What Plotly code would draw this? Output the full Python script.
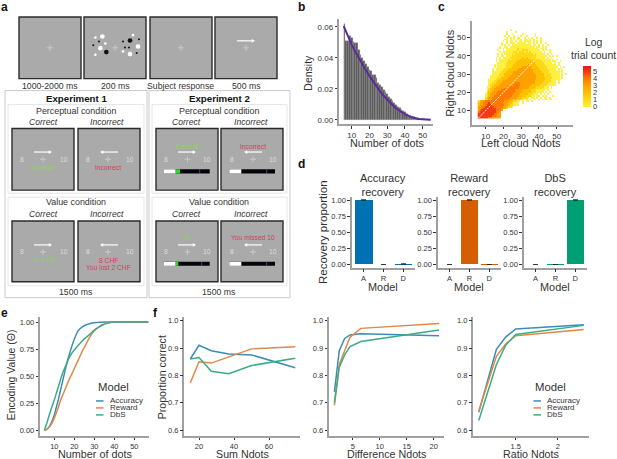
import plotly.graph_objects as go

W, H = 617, 459
FONT = "Liberation Sans"
GREY = "#a0a0a0"
INK = "#333333"

# panel b
dots = list(range(6, 55))
density = [.062, .051, .051, .054, .053, .050, .0495, .0495, .045, .042, .040, .038, .036, .034, .032, .0315,
           .029, .029, .027, .024, .0225, .021, .019, .018, .0165, .015, .0135, .012, .011, .0095, .0085, .0075,
           .0065, .0055, .0048, .004, .0032, .0027, .002, .0016, .0012, .0009, .0006, .0004, .0003, .0002, .0001,
           .00005, .00002]
fit_x = [5.5, 8, 10, 12, 14, 16, 18, 20, 22, 24, 26, 28, 30, 32, 34, 36, 38, 40, 42, 44, 46, 48, 50, 52, 54.5]
fit_y = [.0605, .0535, .0485, .044, .0398, .0358, .032, .0283, .0248, .0215, .0184, .0155, .0129, .0105, .0084,
         .0065, .0049, .0036, .0025, .0016, .001, .0005, .0002, .0001, 0]

# panel c, log trial count read per dot count ('.' = no trials), top row is y=54, first column x=6
cloud_rows = [
    "..................0",
    "................0....0",
    "................0..0.....0......0",
    "...............0.0..0...0..0....0",
    "................0.0.0.00..0.0.0..0.0",
    "...............00.0.0.0.0.00.0.0...0",
    "..............0.0.00.0.00.0000.0.0.0",
    ".............0..0.000.00000.00.0.0.0..0",
    ".............0.0.0.00000000000.00.0.0..0",
    "............0..00.00000000000000.00.0.0",
    "............0.0.000000100100000000.00.0",
    "...........0..0.0000001001110000000.0.0.0",
    "............0.0000001101110101000000.0..0",
    "...........0.0.00001011111111110100000.0.0",
    "...........0.00.00011111111111111000000.0.0.0",
    "..........0.0.000011111112121111100000.0.0",
    "..........0.00000101111122222211111000000.0.0",
    "..........0.00000111112222222221111100000.00..0",
    "...........0000011111222222222221111100000.0.0",
    ".........0.000001111222222223222211111000000.0",
    ".........0.0000011122222233333222211111000000.0.0",
    "........0.0000011122222333333322222111100000.00",
    "........0.0000111222223333333332222111110000.0.0",
    "........00000111222233333333333222221111000000.0",
    "........00001112222333333333333322222111100000.0.0",
    ".......000001112223333333333333332222111100000.0",
    ".......000011222233333333333333332222211110000.0",
    "......00001122223333333333333333322222111000000",
    "......00011222333333333333333333222221111000.0",
    "......00112223333333344433333333222211110000.0",
    "......01122233333333444433333322222111100000",
    ".....00122333333344444433333322221111000.0",
    ".....01223333334444444433333222211110000.0",
    ".....012233334444444433332222211100000.0",
    ".....12233344444444443333222221110000.0.0",
    "....012333444444444433332222111000.0.0.0",
    "....0123344444444443333222211100.00.0.0...0",
    "....1233444444444433332221110.00.0.0.00.0",
    "....123344444444433322211000.0.00.0.0.0.00",
    "123344444444444333221100.0.00.0",
    "23344454444444333221000..0",
    "23344555444444433211000",
    "33445555544444332110",
    "33455555554443321",
    "34555555554443",
    "4555555555443",
    "5555555554433",
    "5555555544333",
    "5555554433332",
]
cloud_x = list(range(6, 55))
cloud_y = list(range(54, 5, -1))
diag_x = [6, 38]
diag_y = [6, 38]

# panel d
model_letters = ["A", "R", "D"]
recovery_titles = ["Accuracy<br>recovery", "Reward<br>recovery", "DbS<br>recovery"]
recovery_vals = [[.998, 0, .002], [0, .999, .001], [0, .001, .999]]
recovery_err = [[.003, .002, .004], [.002, .004, .003], [.002, .003, .004]]
recovery_cols = ["#0072B2", "#D55E00", "#009E73"]

# panel e
models = ["Accuracy", "Reward", "DbS"]
model_cols = ["#3b8db8", "#e2874a", "#3bab84"]
enc_x = [[5, 6, 7, 8, 9, 10, 11, 12, 13, 14, 15, 16, 17, 18, 19, 20, 22, 24, 26, 28, 30, 33, 36, 57],
         [5, 6, 7, 8, 9, 10, 11, 12, 13, 14, 15, 16, 17, 18, 19, 20, 22, 24, 26, 28, 30, 32, 34, 36, 40, 57],
         [5, 6, 7, 8, 9, 10, 11, 12, 13, 14, 15, 16, 18, 20, 22, 24, 26, 28, 30, 32, 34, 36, 40, 57]]
enc_y = [[0, .005, .02, .05, .09, .14, .21, .28, .36, .44, .52, .60, .67, .73, .79, .84, .92, .955, .975, .987, .994,
          .998, 1, 1],
         [0, .005, .02, .04, .07, .11, .16, .21, .27, .315, .36, .405, .45, .49, .53, .57, .65, .73, .80, .87, .92,
          .95, .975, .99, 1, 1],
         [0, .05, .11, .17, .225, .28, .34, .40, .46, .52, .565, .61, .69, .74, .785, .825, .86, .89, .925, .95, .97,
          .985, 1, 1]]

# panel f
sum_x = [15, 20, 27, 37, 50, 75]
sum_y = [[.86, .91, .89, .878, .875, .828],
         [.772, .85, .845, .867, .897, .905],
         [.86, .865, .815, .806, .836, .863]]
diff_x = [1.6, 2.5, 3.5, 4.5, 6.5, 21]
diff_y = [[.74, .89, .935, .948, .952, .945],
          [.69, .84, .89, .94, .972, .99],
          [.70, .83, .875, .905, .924, .966]]
ratio_x = [1.06, 1.27, 1.38, 1.5, 2.31]
ratio_y = [[.665, .895, .94, .97, .985],
           [.67, .87, .915, .945, .968],
           [.635, .84, .91, .95, .983]]

fig = go.Figure()
layout_axes = {}
shapes = []
notes = []


def px(x):
    return x / W


def py(y):
    return 1 - y / H


def txt(x, y, s, size=8, color=INK, **kw):
    notes.append(dict(x=px(x), y=py(y), text=s, xref="paper", yref="paper", showarrow=False,
                      font=dict(size=size, color=color, family=FONT), xanchor=kw.pop("xanchor", "center"),
                      yanchor="middle", **kw))


def rect(x0, y0, x1, y1, fill="rgba(0,0,0,0)", line="#333333", width=1.0):
    shapes.append(dict(type="rect", xref="paper", yref="paper", x0=px(x0), x1=px(x1), y0=py(y0), y1=py(y1),
                       fillcolor=fill, line=dict(color=line, width=width)))


def seg(x0, y0, x1, y1, color, width=1.0):
    shapes.append(dict(type="line", xref="paper", yref="paper", x0=px(x0), x1=px(x1), y0=py(y0), y1=py(y1),
                       line=dict(color=color, width=width)))


def dot(x, y, r, color):
    shapes.append(dict(type="circle", xref="paper", yref="paper", x0=px(x - r), x1=px(x + r), y0=py(y - r),
                       y1=py(y + r), fillcolor=color, line=dict(width=0)))


def arrow(x0, x1, y):
    # x1 is the tip
    d = 1 if x1 > x0 else -1
    seg(x0, y, x1 - d * 2, y, "white", 1.2)
    path = "M %f %f L %f %f L %f %f Z" % (px(x1), py(y), px(x1 - d * 3.2), py(y - 1.9), px(x1 - d * 3.2), py(y + 1.9))
    shapes.append(dict(type="path", xref="paper", yref="paper", path=path, fillcolor="white", line=dict(width=0)))


def cross(x, y, r=3):
    seg(x - r, y, x + r, y, "#cfcfcf", 0.8)
    seg(x, y - r, x, y + r, "#cfcfcf", 0.8)


def screen(x0, y0, x1, y1):
    rect(x0, y0, x1, y1, fill="#aaaaaa", line="#2b2b2b", width=1.4)


def axes(n, left, right, top, bottom, xr, yr, xt, yt, ytickfmt=None, xtext=None, tick=7.5):
    xn = "xaxis" if n == 1 else "xaxis%d" % n
    yn = "yaxis" if n == 1 else "yaxis%d" % n
    common = dict(showgrid=False, zeroline=False, showline=True, linecolor=GREY, linewidth=1.5, ticks="outside",
                  ticklen=2.5, tickwidth=0.8, tickcolor=INK, tickfont=dict(size=tick, color=INK, family=FONT))
    layout_axes[xn] = dict(domain=[px(left), px(right)], range=xr, tickvals=xt, anchor="y" if n == 1 else "y%d" % n,
                           **common)
    if xtext:
        layout_axes[xn]["ticktext"] = xtext
    layout_axes[yn] = dict(domain=[py(bottom), py(top)], range=yr, tickvals=yt, anchor="x" if n == 1 else "x%d" % n,
                           **common)
    if ytickfmt:
        layout_axes[yn]["tickformat"] = ytickfmt
    return ("x" if n == 1 else "x%d" % n), ("y" if n == 1 else "y%d" % n)


# panel a, top row
for x0, x1 in [(19, 81), (84, 146), (150, 212), (215, 277)]:
    screen(x0, 16, x1, 78)
    cross((x0 + x1) / 2, 47)
white_dots = [(286, 110, 4), (307, 107, 7), (316, 128, 4), (301, 142, 7), (286, 162, 4), (399, 103, 4), (414, 137, 7),
              (369, 152, 4), (390, 160, 7)]
black_dots = [(297, 122, 3), (280, 133, 3), (319, 154, 7), (369, 122, 3), (390, 119, 7), (417, 115, 3), (375, 140, 3),
              (387, 140, 3), (410, 157, 3)]
for a, b, r in white_dots:
    dot(a / 3, b / 3, r / 3, "white")
for a, b, r in black_dots:
    dot(a / 3, b / 3, r / 3, "#111111")
arrow(237, 255, 40)
for x, s in [(50, "1000-2000 ms"), (115, "200 ms"), (180.5, "Subject response"), (246, "500 ms")]:
    txt(x, 85, s, 8.7)

# panel a, experiments
for x0, x1, name in [(5, 147, "Experiment 1"), (149, 290, "Experiment 2")]:
    rect(x0, 90, x1, 298, line="#bdbdbd", width=0.8)
    rect(x0 + 3, 104, x1 - 3, 193, line="#e0e0e0", width=0.8)
    rect(x0 + 3, 197, x1 - 3, 286, line="#e0e0e0", width=0.8)
    mid = (x0 + x1) / 2
    txt(mid, 98, "<b>%s</b>" % name, 9.7, "#111111")
    txt(mid, 110, "Perceptual condition", 8.9)
    txt(mid, 202, "Value condition", 8.9)
    txt(mid, 292, "1500 ms", 8.7)
    for y in (122, 214):
        txt(mid - 33, y, "<i>Correct</i>", 8.6)
        txt(mid + 31, y, "<i>Incorrect</i>", 8.6)

GREEN = "#86d94f"
RED = "#d2405c"
for left in (12, 78, 156, 221):
    screen(left, 128, left + 62, 190)
    screen(left, 221, left + 62, 282)

for y_arrow, y_num in [(151.7, 159), (245, 252)]:
    arrow(34, 52, y_arrow)
    arrow(118, 100, y_arrow)
    arrow(178, 196, y_arrow)
    arrow(262, 244, y_arrow)
    for c, l, r in [(43, 22.5, 63.5), (108, 88.5, 130), (187.5, 166, 207), (253, 232, 273)]:
        cross(c, y_num)
        txt(l, y_num, "8", 6.7, "#dddddd")
        txt(r, y_num, "10", 6.7, "#dddddd")

txt(43, 167.7, "Correct!", 6.7, GREEN)
txt(108, 167.7, "Incorrect", 6.7, RED)
txt(187.7, 145.7, "Correct!", 6.7, GREEN)
txt(253, 145.7, "Incorrect", 6.7, RED)
txt(43, 260, "10 CHF", 6.7, GREEN)
txt(108.5, 260.7, "8 CHF", 6.7, RED)
txt(108.5, 268, "You lost 2 CHF", 6.7, RED)
txt(187, 238, "10", 6.7, GREEN)
txt(253, 238, "You missed 10", 6.7, RED)

# progress bars: white, green, blue tick
for y0, y1, x0, white_end, green_end, x1, tick in [(169, 173.3, 164, 175.7, 180, 209.7, 199.7),
                                                    (169, 173.3, 229.3, 241.3, 241.3, 275, 266.7),
                                                    (262, 266, 164, 175.7, 178.3, 209.7, 201.7),
                                                    (262, 266, 229.3, 241.3, 241.3, 275, 266.7)]:
    rect(x0, y0, x1, y1, fill="#050505", line="#050505", width=0)
    rect(x0, y0, white_end, y1, fill="white", line="white", width=0)
    if green_end > white_end:
        rect(white_end, y0, green_end, y1, fill="#22dd22", line="#22dd22", width=0)
    seg(tick, y0, tick, y1, "#2d6ea8", 0.8)

# panel b
xa, ya = axes(1, 339, 433, 18, 124, [2.85, 55.8], [-.003, .0651], [10, 20, 30, 40, 50], [0, .02, .04, .06],
              ytickfmt=".2f", tick=8)
fig.add_trace(go.Bar(x=dots, y=density, marker=dict(color="#555555", line=dict(color="#aaaaaa", width=0.3)),
                     width=1, xaxis=xa, yaxis=ya, showlegend=False))
fig.add_trace(go.Scatter(x=fit_x, y=fit_y, mode="lines", line=dict(color="#5b2a9d", width=2), xaxis=xa, yaxis=ya,
                         showlegend=False))
txt(387, 143, "Number of dots", 10.8)
txt(308, 72, "Density", 10.5, textangle=-90)

# panel c
cloud_z = []
for row in cloud_rows:
    cells = [None if ch == "." else int(ch) for ch in row]
    cloud_z.append(cells + [None] * (len(cloud_x) - len(cells)))
xa, ya = axes(2, 471.7, 573, 20, 124.7, [2.1, 59.2], [2, 59.2], [10, 20, 30, 40, 50], [10, 20, 30, 40, 50], tick=8)
fig.add_trace(go.Heatmap(x=cloud_x, y=cloud_y, z=cloud_z, zmin=0, zmax=5.8, hoverongaps=False, xaxis=xa, yaxis=ya,
                         colorscale=[[0, "#ffef40"], [.172, "#ffd818"], [.345, "#ffc000"], [.517, "#ffa000"],
                                     [.69, "#ff7a00"], [.86, "#f53a10"], [1, "#e81818"]],
                         colorbar=dict(x=px(583), xanchor="left", y=py(85.5), yanchor="middle", lenmode="pixels",
                                       len=41, thicknessmode="pixels", thickness=8, outlinewidth=0, xpad=0, ypad=0,
                                       tickvals=[0, 1, 2, 3, 4, 5], ticks="", ticklen=0,
                                       tickfont=dict(size=7.5, color=INK, family=FONT))))
fig.add_trace(go.Scatter(x=diag_x, y=diag_y, mode="lines", line=dict(color="white", width=1, dash="2px,1px"),
                         xaxis=xa, yaxis=ya, showlegend=False))
txt(521, 143, "Left cloud Ndots", 11)
txt(450, 73, "Right cloud Ndots", 11, textangle=-90)
txt(594, 42, "Log", 10.4)
txt(593, 55, "trial count", 10.4)

# panel d
for i, (left, right) in enumerate([(351.7, 415), (437.7, 501), (523.7, 587)]):
    xa, ya = axes(3 + i, left, right, 196.7, 267.7, [-.6, 2.6], [-.05, 1.05], [0, 1, 2], [0, .25, .5, .75, 1],
                  ytickfmt=".2f", xtext=model_letters)
    fig.add_trace(go.Bar(x=[0, 1, 2], y=recovery_vals[i], width=.88, xaxis=xa, yaxis=ya, showlegend=False,
                         marker=dict(color=recovery_cols[i], line=dict(width=0)),
                         error_y=dict(type="data", array=recovery_err[i], color="#222222", thickness=.7, width=2.5)))
    mid = (left + right) / 2
    txt(mid, 185, recovery_titles[i], 11)
    txt(mid, 287, "Model", 10.9)
txt(323, 232, "Recovery proportion", 11.5, textangle=-90)

# panel e
xa, ya = axes(7, 40, 149, 317, 436.7, [2.85, 57.35], [-.052, 1.05], [10, 20, 30, 40, 50], [0, .25, .5, .75, 1],
              ytickfmt=".2f")
for xs, ys, col in zip(enc_x, enc_y, model_cols):
    fig.add_trace(go.Scatter(x=xs, y=ys, mode="lines", line=dict(color=col, width=1.5, shape="spline"), xaxis=xa,
                             yaxis=ya, showlegend=False))
txt(95, 455, "Number of dots", 10.8)
txt(11, 376, "Encoding Value (\u0398)", 10.5, textangle=-90)

# panel f
panels = [(8, 184.3, 300, [11.6, 77.7], [20, 40, 60], sum_x, sum_y, "Sum Ndots", 242.5),
          (9, 329, 444.3, [.6, 21.96], [5, 10, 15, 20], diff_x, diff_y, "Difference Ndots", 386.5),
          (10, 473.3, 588.7, [.995, 2.369], [1.5, 2], ratio_x, ratio_y, "Ratio Ndots", 531)]
for n, left, right, xr, xt, xs, yss, lab, lab_x in panels:
    xa, ya = axes(n, left, right, 317, 436.7, xr, [.579, 1.015], xt, [.6, .7, .8, .9, 1], ytickfmt=".1f")
    for ys, col in zip(yss, model_cols):
        fig.add_trace(go.Scatter(x=xs, y=ys, mode="lines", line=dict(color=col, width=1.5), xaxis=xa, yaxis=ya,
                                 showlegend=False))
    txt(lab_x, 455, lab, 10.7)
txt(162, 378, "Proportion correct", 10.6, textangle=-90)

# hand placed legends, entries are too tight for the plotly legend
for left in (95.5, 533):
    txt(left, 388, "Model", 11.3, xanchor="left")
    for name, col, y in zip(models, model_cols, (401.7, 408.7, 415.7)):
        seg(left + .5, y, left + 8, y, col, 1.5)
        txt(left + 12, y, name, 8, xanchor="left")

for x, y, s in [(4, 6, "a"), (301, 6, "b"), (441, 6, "c"), (301, 164, "d"), (4, 313, "e"), (155, 313, "f")]:
    txt(x, y, "<b>%s</b>" % s, 12, "#111111")

fig.update_layout(width=W, height=H, margin=dict(l=0, r=0, t=0, b=0), plot_bgcolor="white", paper_bgcolor="white",
                  bargap=0, shapes=shapes, annotations=notes, showlegend=False, font=dict(family=FONT),
                  **layout_axes)
fig.write_html("out.html", config={"displayModeBar": False},
               post_script="document.body.style.margin='0';")
